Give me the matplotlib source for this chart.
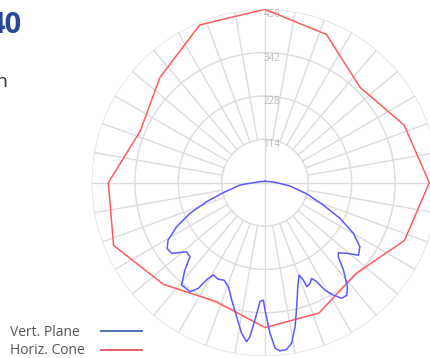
import numpy as np
import matplotlib
matplotlib.use('Agg')
import matplotlib.pyplot as plt
from matplotlib.lines import Line2D

plt.rcParams['font.family'] = ['Open Sans', 'DejaVu Sans']

# Valores (graus, sentido horario a partir do topo)
ang_cone = [0, 22.5, 45, 67.5, 90, 112.5, 135, 157.5, 180, 202.5, 225, 247.5, 270, 292.5, 315, 337.5, 360]
val_cone = [456, 422, 354, 396, 432, 397, 338, 371, 381, 338, 378, 431, 412, 355, 391, 449, 456]

ang_plano = [0, 30, 60, 75, 90, 97.5, 105, 111, 115.4, 119.8, 124, 127.8, 130.8, 133.7, 135.3,
             138.1, 141.6, 144, 146.4, 148.7, 150.8, 152.4, 154, 155.9, 158.1, 158.5, 159.8,
             162.5, 165.7, 168.2, 170.6, 172.6, 174.9, 176.5, 178.1, 180, 180.8, 182.4, 184.2,
             185.6, 186.6, 188.8, 191.9, 195.8, 199.4, 202.8, 205.8, 209.3, 211, 212.3, 214.5,
             219.2, 222.5, 225.4, 228.6, 232.9, 236.1, 239.4, 243.5, 247.8, 252, 256.5, 264.7,
             270, 285, 300, 330, 360]
val_plano = [4, 4, 6, 12, 31, 66, 114, 164, 218, 268, 301, 311, 284, 267, 274,
             309, 349, 366, 365, 346, 324, 294, 280, 290, 295, 275, 259,
             287, 337, 387, 428, 442, 444, 436, 396, 335, 309, 313, 362,
             407, 421, 401, 361, 321, 290, 278, 282, 278, 298, 329, 348,
             347, 312, 277, 275, 308, 310, 296, 260, 213, 161, 113, 66,
             31, 12, 6, 4, 4]

aneis = [114, 228, 342, 456]
cor_grade = '#dcdcdc'

fig = plt.figure(figsize=(4.3, 3.58), dpi=100)
ax = fig.add_axes([91.6 / 430, 1.9 / 358, 346.8 / 430, 346.8 / 358], projection='polar')
ax.set_theta_zero_location('N')
ax.set_theta_direction(-1)
ax.set_ylim(0, 456)
ax.set_xticks([])
ax.set_yticks([])
ax.grid(False)
ax.spines['polar'].set_visible(False)
ax.patch.set_alpha(0)

# grade: aneis e raios (raios comecam no primeiro anel, exceto os eixos principais)
t = np.linspace(0, 2 * np.pi, 400)
for r in aneis:
    ax.plot(t, np.full_like(t, r), color=cor_grade, lw=1, zorder=1)
for a in range(0, 360, 10):
    r0 = 0 if a % 90 == 0 else aneis[0]
    ax.plot([np.deg2rad(a)] * 2, [r0, aneis[-1]], color=cor_grade, lw=1, zorder=1)

for r in aneis:
    ax.annotate(str(r), xy=(0, r), xytext=(5, -4), textcoords='offset points',
                ha='center', va='center', fontsize=7, color='#b8b8b8', zorder=2)

ax.plot(np.deg2rad(ang_cone), val_cone, color='#ff5c5c', lw=1.1, zorder=3)
ax.plot(np.deg2rad(ang_plano), val_plano, color='#5a5aff', lw=1.1, zorder=4)

# textos cortados no canto esquerdo
fig.text(21.5 / 430, 1 - 33.3 / 358, '40', ha='right', va='baseline',
         fontsize=21, fontweight='bold', color='#2b4796')
fig.text(7.5 / 430, 1 - 87 / 358, 'n', ha='right', va='baseline', fontsize=14, color='#333333')

# legenda
fig.text(10 / 430, 1 - 336 / 358, 'Vert. Plane', ha='left', va='baseline', fontsize=10, color='#555555')
fig.text(10 / 430, 1 - 354 / 358, 'Horiz. Cone', ha='left', va='baseline', fontsize=10, color='#555555')
fig.add_artist(Line2D([101 / 430, 142 / 430], [1 - 330.7 / 358] * 2, color='#4060b8', lw=1.3))
fig.add_artist(Line2D([101 / 430, 142 / 430], [1 - 349.7 / 358] * 2, color='#e05560', lw=1.3))

fig.savefig('out.png', dpi=100)
